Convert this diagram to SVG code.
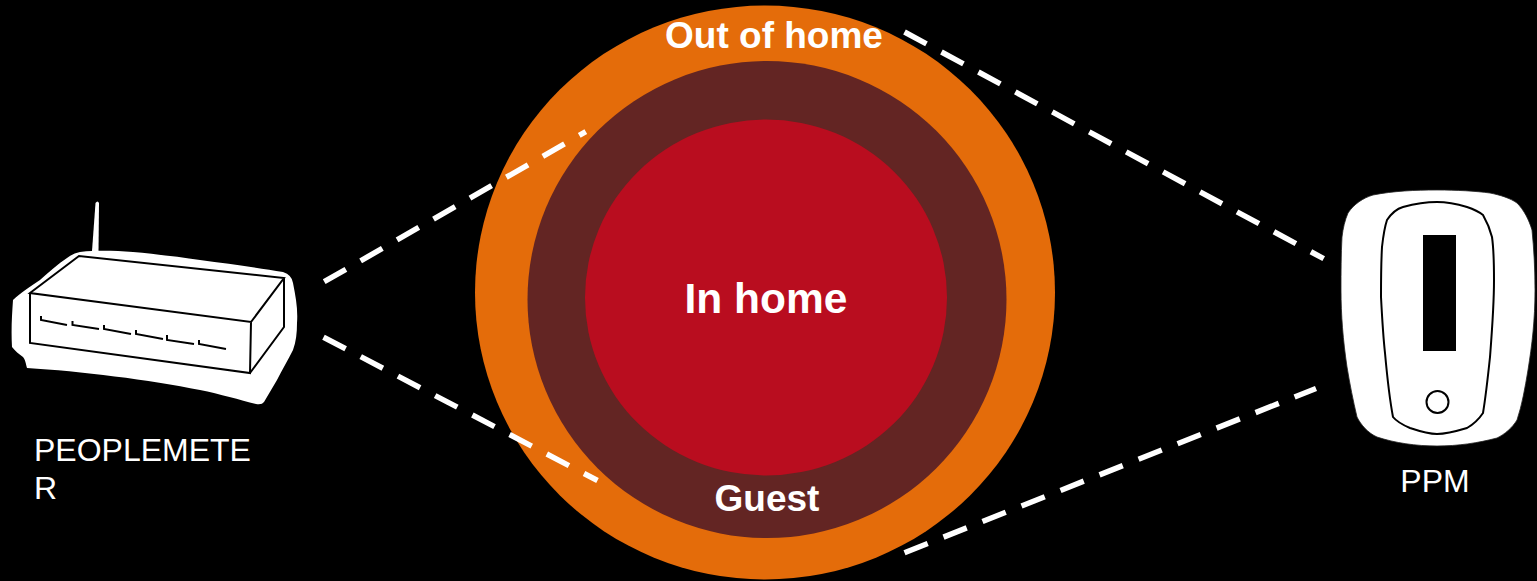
<svg xmlns="http://www.w3.org/2000/svg" width="1537" height="581" viewBox="0 0 1537 581">
<style>
.lbl{font-family:"Liberation Sans",Arial,sans-serif;fill:#fff}
.b{font-weight:bold}
.dash{fill:none;stroke:#fff;stroke-width:5.500;stroke-dasharray:25 17}
.ink{fill:none;stroke:#000;stroke-width:2}
</style>
<rect width="1537" height="581" fill="#000"/>
<g id="circle-out"><ellipse cx="765" cy="292.500" rx="290" ry="287" fill="#e46c0a"/></g>
<g id="circle-guest"><ellipse cx="767" cy="299.500" rx="239.500" ry="238.500" fill="#632523"/></g>
<g id="circle-home"><ellipse cx="766" cy="297.500" rx="181" ry="178" fill="#b90d1f"/></g>
<g id="connectors">
<line class="dash" x1="324.200" y1="281.700" x2="585.800" y2="131.700"/>
<line class="dash" x1="323.500" y1="337.200" x2="597.500" y2="480.500"/>
<line class="dash" x1="904.500" y1="32" x2="1323.700" y2="258.700"/>
<line class="dash" x1="904.500" y1="552.700" x2="1316" y2="388.500"/>
</g>
<g id="peoplemeter">
<path d="M92 251 L95.500 203 Q97.500 200 99 203 L98.500 251 Z" fill="#fff"/>
<path d="M80 252 C100 250 115 251 133 252 C155 254 180 257 200 260 C230 264 260 268 283 272 Q292 275 293 283 C296 298 298 310 297 323 C297 333 296 342 293 350 C288 360 282 370 277 380 L264 402 Q262 405 256 404 C240 400 220 394 200 390 C150 380 80 371 27 368 C26 364 25 359 23 357 C19 354 15 351 12 347 C11 330 12 315 13 300 C20 293 30 287 40 280 C49 272 58 264 67 258 C71 255 75 253 80 252 Z" fill="#fff"/>
<path class="ink" d="M30 293 L79 256 L284 278 L251 322 Z M30 293 L30 343 L250 373 L251 322 M250 373 L284 327 L284 278"/>
<path class="ink" d="M41 316 V320 L67 325 M72.500 321 V325 L99 329 M104 325 V329 L131 334 M136 330 V334 L163 339 M167 335 V340 L194 344 M199 340 V344 L226 349"/>
</g>
<g id="ppm">
<path d="M1437 190 C1457 190 1475 191 1490 193 C1500 195 1510 198 1517 203 C1524 210 1529 220 1532 230 C1534 250 1535 270 1535 290 C1535 320 1532 345 1528 370 C1525 388 1522 405 1517 420 C1512 428 1505 434 1497 438 C1478 443 1458 446 1437 446 C1416 446 1395 443 1377 437 C1368 433 1361 425 1357 417 C1353 400 1350 385 1347 367 C1343 340 1341 315 1341 290 C1341 272 1341 255 1342 237 C1343 228 1345 220 1348 213 C1354 204 1363 198 1373 195 C1393 191 1415 190 1437 190 Z" fill="#fff" stroke="#222" stroke-width="0.800"/>
<path d="M1437 202 C1425 202 1414 204 1403 207 C1396 209 1391 214 1387 220 C1384 229 1383 238 1382 247 C1381 264 1381 280 1381 297 C1382 316 1383 335 1385 353 C1387 375 1389 396 1393 417 C1397 422 1403 425 1410 428 C1419 431 1428 434 1437 434 C1447 434 1457 431 1467 428 C1474 424 1479 419 1483 413 C1486 395 1488 376 1490 357 C1492 331 1494 306 1494 280 C1494 265 1494 251 1492 237 C1490 229 1487 222 1483 215 C1478 211 1473 209 1467 207 C1457 204 1447 202 1437 202 Z" fill="none" stroke="#000" stroke-width="2"/>
<rect x="1423" y="235" width="33" height="116" fill="#000"/>
<circle cx="1437.500" cy="402" r="11" fill="#fff" stroke="#000" stroke-width="2"/>
</g>
<g id="labels">
<text class="lbl b" x="774" y="48" font-size="37" text-anchor="middle">Out of home</text>
<text class="lbl b" x="766" y="313" font-size="42.500" text-anchor="middle">In home</text>
<text class="lbl b" x="767" y="511" font-size="37" text-anchor="middle">Guest</text>
<text class="lbl" x="34" y="461" font-size="32">PEOPLEMETE</text>
<text class="lbl" x="34" y="499" font-size="32">R</text>
<text class="lbl" x="1435" y="492" font-size="32" text-anchor="middle">PPM</text>
</g>
</svg>
